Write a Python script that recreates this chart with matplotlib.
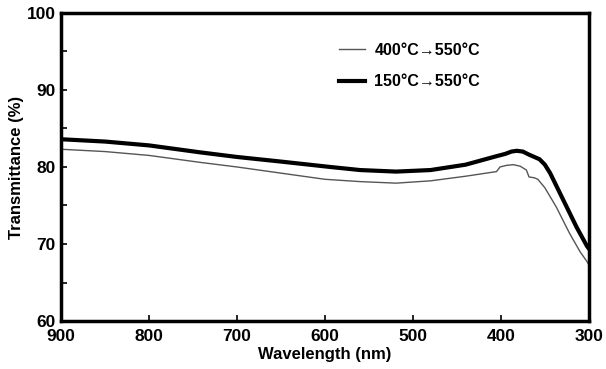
import matplotlib
matplotlib.use("Agg")
import matplotlib.pyplot as plt

plt.rcParams['font.family'] = ['Liberation Sans', 'DejaVu Sans']
plt.rcParams['font.weight'] = 'bold'

# 400C -> 550C (thin grey line)
wl_a = [900, 850, 800, 742, 700, 650, 600, 560, 519, 480, 440, 405, 401, 394, 386, 378, 371, 368, 362, 358, 350, 337, 322, 310, 302, 300]
tr_a = [82.3, 82.0, 81.5, 80.6, 80.0, 79.2, 78.4, 78.1, 77.9, 78.2, 78.8, 79.4, 80.0, 80.2, 80.3, 80.1, 79.6, 78.7, 78.6, 78.4, 77.3, 74.8, 71.4, 69.0, 67.7, 67.3]

# 150C -> 550C (thick black line)
wl_b = [900, 850, 800, 742, 700, 650, 594, 560, 519, 480, 440, 405, 395, 388, 382, 375, 368, 362, 356, 350, 344, 329, 314, 302, 300]
tr_b = [83.6, 83.3, 82.8, 81.9, 81.3, 80.7, 80.0, 79.6, 79.4, 79.6, 80.3, 81.4, 81.7, 82.0, 82.1, 82.0, 81.6, 81.3, 81.0, 80.3, 79.2, 75.7, 72.2, 69.7, 69.4]

fig = plt.figure(figsize=(6.06, 3.69), dpi=100)
ax = fig.add_axes([0.1007, 0.130, 0.871, 0.835])

ax.plot(wl_a, tr_a, color='#555555', lw=1.0, label='400°C→550°C')
ax.plot(wl_b, tr_b, color='black', lw=3.0, label='150°C→550°C')

ax.set_xlim(900, 300)
ax.set_ylim(60, 100)
ax.set_xticks([900, 800, 700, 600, 500, 400, 300])
ax.set_yticks([60, 70, 80, 90, 100])
ax.set_yticks([65, 75, 85, 95], minor=True)
ax.tick_params(direction='in', length=4, width=1.2, labelsize=12.5, pad=4)
ax.tick_params(axis='x', pad=6)
ax.tick_params(which='minor', direction='in', length=4, width=1.2)
for lab in ax.get_xticklabels() + ax.get_yticklabels():
    lab.set_fontweight('bold')
for s in ax.spines.values():
    s.set_linewidth(2.5)

ax.set_xlabel('Wavelength (nm)', fontsize=12, fontweight='bold', labelpad=2)
ax.set_ylabel('Transmittance (%)', fontsize=12, fontweight='bold', labelpad=2)

leg = ax.legend(loc='upper left', bbox_to_anchor=(0.5, 0.95), frameon=False,
                prop={'weight': 'bold', 'size': 11.5}, handlelength=1.6,
                labelspacing=1.05, handletextpad=0.6)

fig.savefig('out.png', dpi=100)
